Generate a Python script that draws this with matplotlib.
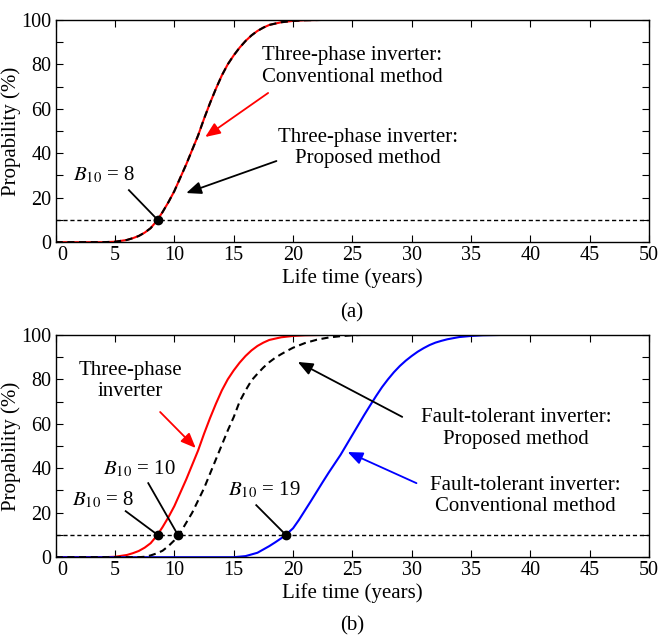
# coding=utf-8
"""
Curvas de probabilidad de falla (a) inversor trifasico, (b) inversor tolerante a fallas
"""

import matplotlib
matplotlib.use('Agg')
import matplotlib.pyplot as plt
import matplotlib.transforms as mtransforms
from matplotlib.ticker import MultipleLocator

# Datos
anos_trifasico = [0, 4, 5, 6, 6.5, 7, 7.5, 8, 8.5, 9, 9.5, 10, 10.5, 11, 11.5, 12, 12.5,
                  13, 13.5, 14, 14.5, 15, 15.5, 16, 16.5, 17, 17.5, 18, 19, 20, 21, 22, 23, 50]
prob_trifasico = [0, 0, 0.2, 1.0, 1.8, 2.8, 4.3, 6.3, 9.5, 13.5, 18, 23, 29, 35, 41.5, 48, 55.5,
                  62.5, 69, 75, 80, 84, 87.5, 90.5, 93, 95, 96.5, 97.7, 98.9, 99.5, 99.8, 99.9, 100, 100]

anos_trifasico_prop = [0, 7, 7.5, 8, 8.5, 9, 9.5, 10, 10.5, 11, 11.5, 12, 12.5, 13, 13.5, 14, 14.5,
                       15, 15.5, 16, 16.5, 17, 17.5, 18, 18.5, 19, 19.5, 20, 21, 22, 23, 24, 25, 26, 50]
prob_trifasico_prop = [0, 0, 0.2, 0.8, 1.7, 2.9, 5, 7.6, 11, 15.5, 20, 25.5, 31, 37.5, 44, 50.5, 57,
                       63, 70, 75, 79.5, 82.5, 85.3, 87.7, 89.7, 91.3, 92.8, 94.2, 96.3, 97.8, 98.8, 99.4, 99.8, 100, 100]

anos_tolerante = [0, 15, 16, 17, 18, 18.5, 19, 19.5, 20, 20.5, 21, 21.5, 22, 22.5, 23, 23.5, 24, 24.5,
                  25, 25.5, 26, 26.5, 27, 27.5, 28, 28.5, 29, 29.5, 30, 30.5, 31, 31.5, 32, 32.5,
                  33, 34, 35, 36, 37, 38, 39, 50]
prob_tolerante = [0, 0, 0.5, 2, 5, 6.7, 8.5, 10.6, 13, 16.8, 21, 25.2, 29.5, 33.8, 38, 42, 46, 50.5,
                  55, 59.5, 64, 68.3, 72.5, 76.5, 80, 83.2, 86, 88.4, 90.5, 92.4, 94, 95.4, 96.5, 97.3,
                  98, 99, 99.5, 99.8, 99.9, 100, 100, 100]

b10_a = [8.6]
b10_b = [8.6, 10.3, 19.4]
nivel_b10 = 10

ticks_x = list(range(0, 51, 5))

plt.rcParams['font.family'] = 'Liberation Serif'
plt.rcParams['mathtext.fontset'] = 'stix'
plt.rcParams['font.size'] = 15

ROJO = '#ff0000'
AZUL = '#0000ff'
DASH = (0, (3.4, 2.2))


def formato_ejes(ax):
    """Limites, ticks y rotulos comunes"""
    ax.set_xlim(0, 50)
    ax.set_ylim(0, 100)
    ax.set_xticks(ticks_x)
    ax.yaxis.set_major_locator(MultipleLocator(20))
    ax.yaxis.set_minor_locator(MultipleLocator(10))
    ax.tick_params(which='both', direction='in', top=True, right=True,
                   length=5, width=0.8, labelsize=14.5, pad=3)
    for s in ax.spines.values():
        s.set_linewidth(1.0)
    ax.set_xlabel('Life time (years)', labelpad=2)
    ax.set_ylabel('Propability (%)', labelpad=0)
    ax.axhline(nivel_b10, color='k', ls=(0, (3, 2)), lw=1.0, zorder=1)


def flecha(ax, punta, cola, color):
    ax.annotate('', xy=punta, xytext=cola,
                arrowprops=dict(arrowstyle='-|>,head_length=0.6,head_width=0.25',
                                color=color, lw=1.3, mutation_scale=15,
                                shrinkA=0, shrinkB=0))


fig = plt.figure(figsize=(6.63, 6.39), dpi=100)
ax1 = fig.add_axes([0.084, 0.621, 0.895, 0.348])
ax2 = fig.add_axes([0.084, 0.128, 0.895, 0.348])

# (a)
formato_ejes(ax1)
ax1.plot(anos_trifasico, prob_trifasico, color=ROJO, lw=1.5, zorder=2)
ax1.plot(anos_trifasico, prob_trifasico, color='k', lw=1.5, ls=DASH, zorder=3)
ax1.plot(b10_a, [nivel_b10] * len(b10_a), 'o', color='k', ms=6, zorder=5)
ax1.plot([6.17, b10_a[0]], [23.4, nivel_b10], color='k', lw=1.3)
ax1.text(1.5, 30.2, '$B_{10}$ = 8', ha='left', va='center')
ax1.text(25.0, 79, 'Three-phase inverter:\nConventional method', ha='center', va='center', linespacing=1.15)
flecha(ax1, (12.6, 47.3), (17.9, 67.1), ROJO)
ax1.text(26.3, 42.5, 'Three-phase inverter:\nProposed method', ha='center', va='center', linespacing=1.15)
flecha(ax1, (11.0, 22.1), (18.6, 36.5), 'k')

# (b)
formato_ejes(ax2)
ax2.plot(anos_trifasico, prob_trifasico, color=ROJO, lw=1.5, zorder=2)
ax2.plot(anos_trifasico_prop, prob_trifasico_prop, color='k', lw=1.5, ls=DASH, zorder=3)
ax2.plot(anos_tolerante, prob_tolerante, color=AZUL, lw=1.5, zorder=2)
ax2.plot(b10_b, [nivel_b10] * len(b10_b), 'o', color='k', ms=6, zorder=5)
ax2.plot([5.9, b10_b[0]], [20.7, nivel_b10], color='k', lw=1.3)
ax2.plot([7.8, b10_b[1]], [33.3, nivel_b10], color='k', lw=1.3)
ax2.plot([16.9, b10_b[2]], [23.4, nivel_b10], color='k', lw=1.3)
ax2.text(1.4, 25.7, '$B_{10}$ = 8', ha='left', va='center')
ax2.text(4.0, 39.6, '$B_{10}$ = 10', ha='left', va='center')
ax2.text(14.5, 30.2, '$B_{10}$ = 19', ha='left', va='center')
ax2.text(6.3, 79.3, 'Three-phase\ninverter', ha='center', va='center', linespacing=1.15)
flecha(ax2, (11.8, 49.1), (8.8, 65.3), ROJO)
ax2.text(38.8, 57.9, 'Fault-tolerant inverter:\nProposed method', ha='center', va='center', linespacing=1.15)
flecha(ax2, (20.4, 87.8), (29.2, 63.1), 'k')
ax2.text(39.6, 27.7, 'Fault-tolerant inverter:\nConventional method', ha='center', va='center', linespacing=1.15)
flecha(ax2, (24.6, 47.3), (30.4, 33.3), AZUL)

# Se corre el rotulo "0" a la derecha como en el original
desplaza = mtransforms.ScaledTranslation(0.07, 0, fig.dpi_scale_trans)
for ax in (ax1, ax2):
    lbl = ax.get_xticklabels()[0]
    lbl.set_transform(lbl.get_transform() + desplaza)

fig.text(0.531, 1 - 313 / 639, '(a)', ha='center', va='center')
fig.text(0.531, 1 - 626 / 639, '(b)', ha='center', va='center')

fig.savefig('out.png', dpi=100)
